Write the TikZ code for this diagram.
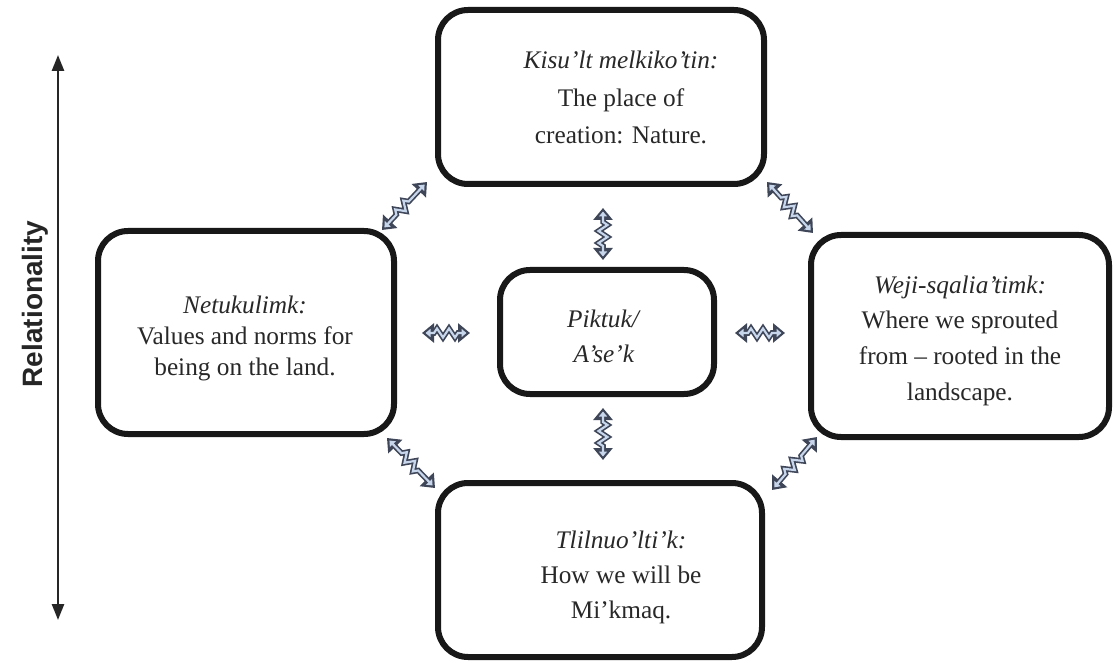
\documentclass[tikz,border=0pt]{standalone}
\usepackage{fontspec}
\setmainfont{Liberation Serif}
\newfontfamily\lsans{Liberation Sans}
\usetikzlibrary{arrows.meta,decorations.pathmorphing}
\definecolor{zzd}{RGB}{62,70,88}
\definecolor{zzl}{RGB}{200,214,236}
\definecolor{boxline}{RGB}{24,24,24}
\definecolor{txt}{RGB}{40,40,40}
\tikzset{
  box/.style={draw=boxline, line width=6pt, rounded corners=30pt, fill=white, inner sep=0pt},
  btxt/.style={align=center, text=txt, inner sep=0pt},
  zzdec/.style={decorate, decoration={zigzag, segment length=12pt, amplitude=4.5pt, pre length=#1, post length=#1}},
  zzdark/.style={zzdec=#1, line width=5.5pt, draw=zzd, line join=miter,
     {Triangle[width=19pt,length=12pt]}-{Triangle[width=19pt,length=12pt]}},
  zzlight/.style={zzdec=#1, line width=2.2pt, draw=zzl, shorten <=3.5pt, shorten >=3.5pt,
     {Triangle[width=8pt,length=5pt]}-{Triangle[width=8pt,length=5pt]}},
  relarrow/.style={draw=black!85, line width=2.5pt,
     {Triangle[width=12pt,length=16pt]}-{Triangle[width=12pt,length=16pt]}},
}
\newcommand{\zzarrow}[3]{\draw[zzdark=#3] (#1) -- (#2); \draw[zzlight=#3] (#1) -- (#2);}
\begin{document}
\begin{tikzpicture}[x=1pt,y=-1pt]
\useasboundingbox[fill=white] (0,0) rectangle (1120,663);

% boxes
\node[box, minimum width=326pt, minimum height=174pt] (top) at (601,97) {};
\node[box, minimum width=296pt, minimum height=203pt] (left) at (246,332.5) {};
\node[box, minimum width=298pt, minimum height=202pt] (right) at (960,336) {};
\node[box, minimum width=324pt, minimum height=174pt] (bottom) at (600,570) {};
\node[box, minimum width=214pt, minimum height=124pt] (ctr) at (607,332) {};

% texts
\node[btxt, font=\fontsize{25.3}{37.5}\selectfont] (toptxt) at (621,97.5)
  {\textit{Kisu’lt melkiko’tin:}\\The place of\\creation: Nature.};
\node[btxt, font=\fontsize{25.3}{31}\selectfont] (lefttxt) at (245,338)
  {\textit{Netukulimk:}\\Values and norms for\\being on the land.};
\node[btxt, font=\fontsize{25.3}{35.7}\selectfont] (righttxt) at (960,340.7)
  {\textit{Weji-sqalia’timk:}\\Where we sprouted\\from – rooted in the\\landscape.};
\node[btxt, font=\fontsize{25.3}{35}\selectfont] (bottomtxt) at (621,577)
  {\textit{Tlilnuo’lti’k:}\\How we will be\\Mi’kmaq.};
\node[btxt, font=\fontsize{25.3}{35}\selectfont] (ctrtxt) at (604,336)
  {\textit{Piktuk/}\\\textit{A’se’k}};

% relationality axis
\node[rotate=90, text=black!85, inner sep=0pt, font=\lsans\bfseries\fontsize{28}{28}\selectfont] (rel) at (35,304) {Relationality};
\coordinate (rtop) at (58,55);
\coordinate (rbot) at (58,620);
\draw[relarrow] (rtop) -- (rbot);

% zigzag double arrows
\coordinate (a1s) at (382,230); \coordinate (a1e) at (427,182);
\coordinate (a2s) at (767,182); \coordinate (a2e) at (813,233);
\coordinate (a3s) at (387,438); \coordinate (a3e) at (435,488);
\coordinate (a4s) at (772,490); \coordinate (a4e) at (817,437);
\coordinate (a5s) at (603,208); \coordinate (a5e) at (603,260);
\coordinate (a6s) at (603,408); \coordinate (a6e) at (603,460);
\coordinate (a7s) at (422,333); \coordinate (a7e) at (470,333);
\coordinate (a8s) at (735,333); \coordinate (a8e) at (785,333);
\zzarrow{a1s}{a1e}{21pt}
\zzarrow{a2s}{a2e}{21pt}
\zzarrow{a3s}{a3e}{21pt}
\zzarrow{a4s}{a4e}{21pt}
\zzarrow{a5s}{a5e}{14pt}
\zzarrow{a6s}{a6e}{14pt}
\zzarrow{a7s}{a7e}{12pt}
\zzarrow{a8s}{a8e}{13pt}
\end{tikzpicture}
\end{document}
